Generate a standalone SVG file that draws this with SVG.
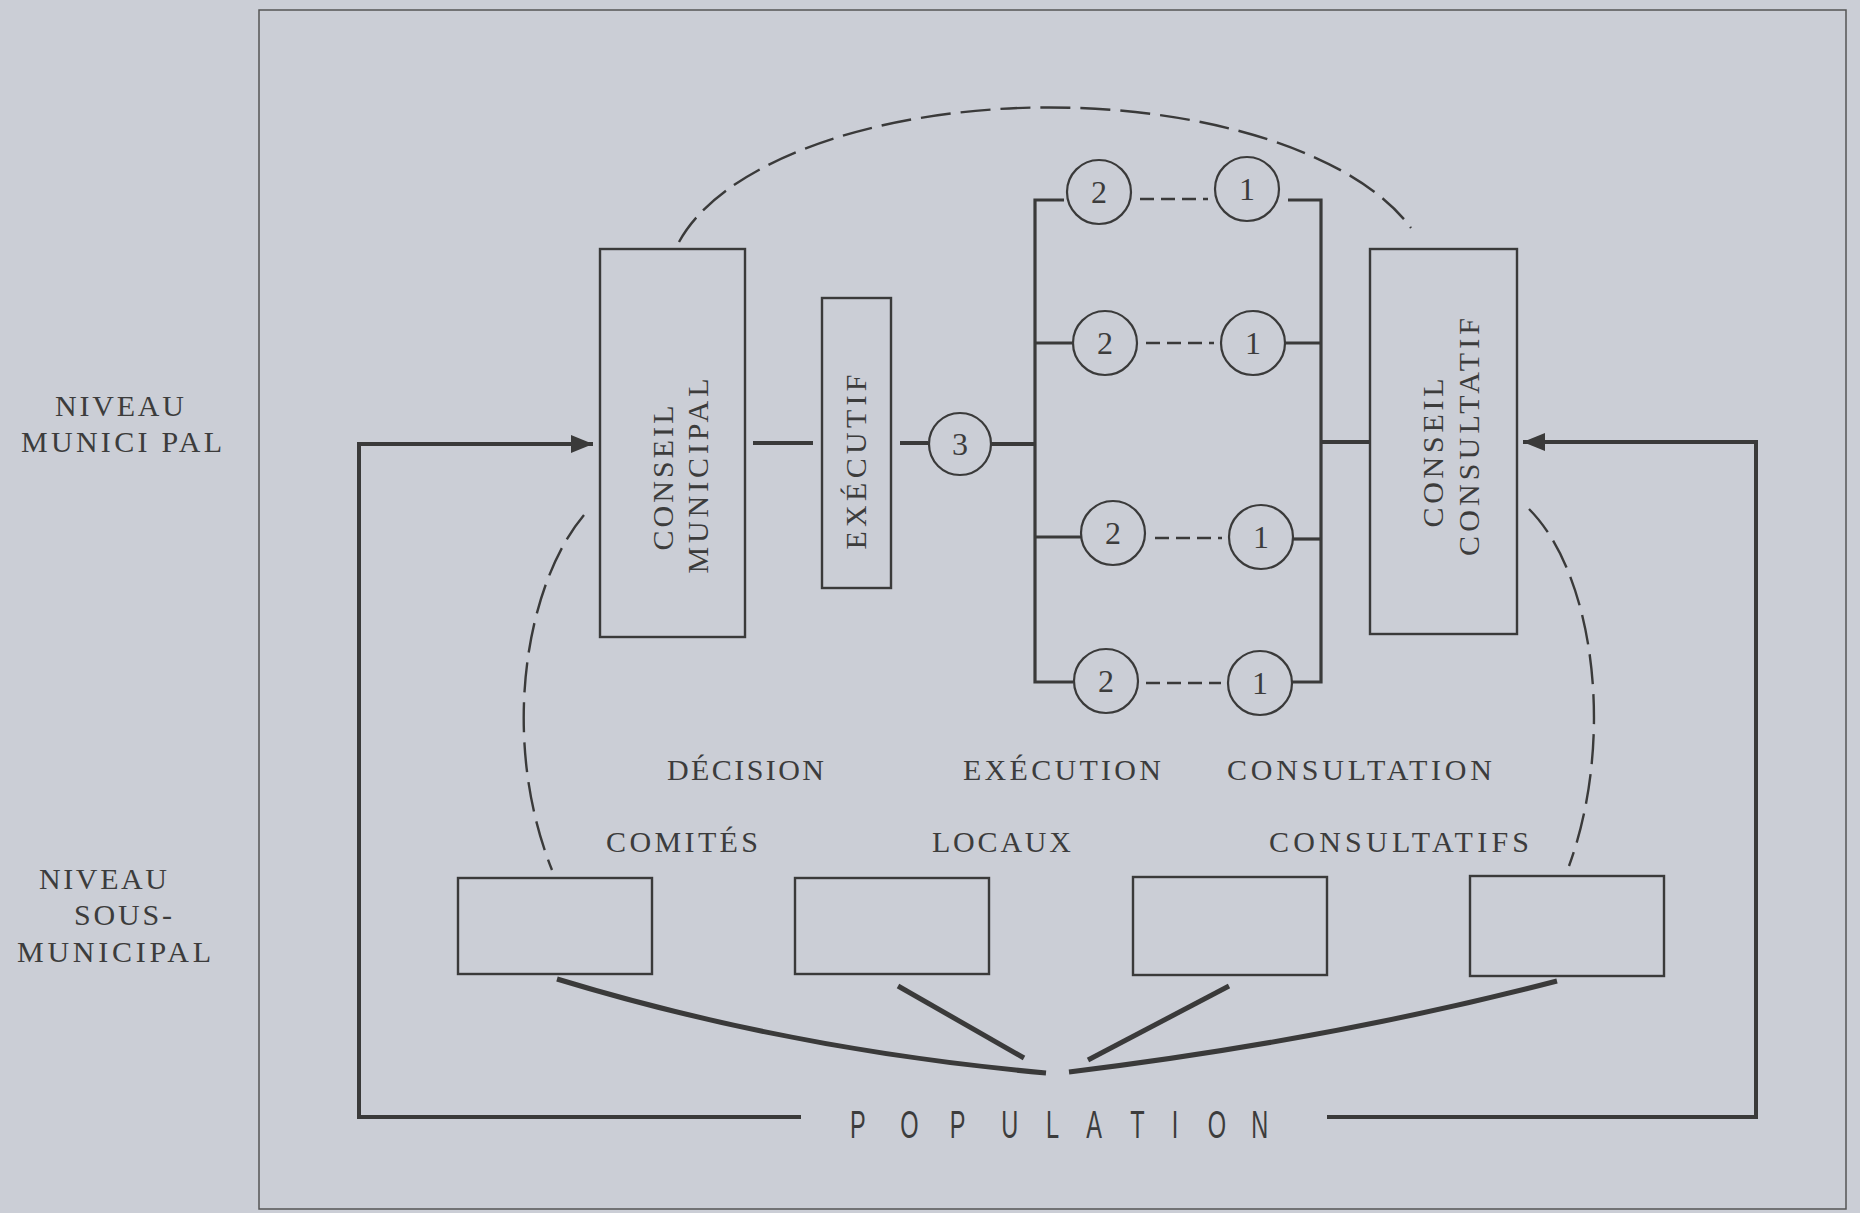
<svg xmlns="http://www.w3.org/2000/svg" width="1860" height="1213" viewBox="0 0 1860 1213">
<defs>
<marker id="arrow" markerUnits="userSpaceOnUse" markerWidth="24" markerHeight="20" refX="22" refY="9" orient="auto">
<path d="M0,0 L22,9 L0,18 z" fill="#3a3a3a"/>
</marker>
<style>
.bg{fill:#cbced6}
.frame{fill:none;stroke:#555;stroke-width:1.5}
.box{fill:none;stroke:#3a3a3a;stroke-width:2.4}
.circ{fill:none;stroke:#3a3a3a;stroke-width:2.2}
.heavy{fill:none;stroke:#3a3a3a;stroke-width:4}
.brk{fill:none;stroke:#3a3a3a;stroke-width:3.2}
.fan{fill:none;stroke:#3a3a3a;stroke-width:5}
.dash{fill:none;stroke:#3a3a3a;stroke-width:2.4;stroke-dasharray:30 10}
.sdash{fill:none;stroke:#3a3a3a;stroke-width:2.6;stroke-dasharray:14 7}
.lbl{font-family:"Liberation Serif","DejaVu Serif",serif;font-size:30px;fill:#3c3c3c}
.num{font-family:"Liberation Serif","DejaVu Serif",serif;font-size:32px;fill:#3c3c3c;text-anchor:middle}
.pop{font-family:"Liberation Sans","DejaVu Sans",sans-serif;font-size:38px;fill:#3c3c3c}
</style>
</defs>
<rect class="bg" x="0" y="0" width="1860" height="1213"/>
<rect class="frame" x="259" y="10" width="1587" height="1199"/>

<g id="label-niveau-municipal">
<text class="lbl" x="55" y="416" textLength="129" lengthAdjust="spacing">NIVEAU</text>
<text class="lbl" x="21" y="452" textLength="201" lengthAdjust="spacing">MUNICI PAL</text>
</g>
<g id="label-niveau-sous-municipal">
<text class="lbl" x="39" y="889" textLength="128" lengthAdjust="spacing">NIVEAU</text>
<text class="lbl" x="74" y="925" textLength="98" lengthAdjust="spacing">SOUS-</text>
<text class="lbl" x="17" y="962" textLength="194" lengthAdjust="spacing">MUNICIPAL</text>
</g>

<g id="connectors">
<path class="dash" d="M 679 242 A 382 178 0 0 1 1411 228"/>
<path class="dash" d="M 584 515 C 525 585, 500 740, 552 870"/>
<path class="dash" d="M 1529 509 C 1595 575, 1615 740, 1569 866"/>
<path class="heavy" d="M 801 1117 L 359 1117 L 359 444 L 593 444" marker-end="url(#arrow)"/>
<path class="heavy" d="M 1327 1117 L 1756 1117 L 1756 442 L 1523 442" marker-end="url(#arrow)"/>
<line class="heavy" x1="753" y1="443" x2="813" y2="443"/>
<line class="heavy" x1="900" y1="443" x2="928" y2="443"/>
<line class="heavy" x1="992" y1="444" x2="1035" y2="444"/>
<line class="heavy" x1="1321" y1="442" x2="1370" y2="442"/>
<path class="brk" d="M 1064 200 L 1035 200 L 1035 682 L 1073 682"/>
<path class="brk" d="M 1288 200 L 1321 200 L 1321 682 L 1292 682"/>
<line class="brk" x1="1035" y1="343" x2="1072" y2="343"/>
<line class="brk" x1="1285" y1="343" x2="1321" y2="343"/>
<line class="brk" x1="1035" y1="537" x2="1081" y2="537"/>
<line class="brk" x1="1293" y1="539" x2="1321" y2="539"/>
<line class="sdash" x1="1140" y1="199" x2="1208" y2="199"/>
<line class="sdash" x1="1146" y1="343" x2="1214" y2="343"/>
<line class="sdash" x1="1155" y1="538" x2="1222" y2="538"/>
<line class="sdash" x1="1146" y1="683" x2="1221" y2="683"/>
<path class="fan" d="M 557 979 Q 790 1050 1046 1073"/>
<path class="fan" d="M 1557 981 Q 1330 1040 1069 1072"/>
<line class="fan" x1="898" y1="986" x2="1024" y2="1058"/>
<line class="fan" x1="1229" y1="986" x2="1088" y2="1060"/>
</g>

<g id="conseil-municipal">
<rect class="box" x="600" y="249" width="145" height="388"/>
<text class="lbl" text-anchor="middle" textLength="145" lengthAdjust="spacing" transform="translate(673,478) rotate(-90)">CONSEIL</text>
<text class="lbl" text-anchor="middle" textLength="195" lengthAdjust="spacing" transform="translate(708,476) rotate(-90)">MUNICIPAL</text>
</g>
<g id="executif">
<rect class="box" x="822" y="298" width="69" height="290"/>
<text class="lbl" text-anchor="middle" textLength="175" lengthAdjust="spacing" transform="translate(866,462) rotate(-90)">EXÉCUTIF</text>
</g>
<g id="circle-3">
<circle class="circ" cx="960" cy="444" r="31"/>
<text class="num" x="960" y="455">3</text>
</g>
<g id="row-1">
<circle class="circ" cx="1099" cy="192" r="32"/><text class="num" x="1099" y="203">2</text>
<circle class="circ" cx="1247" cy="189" r="32"/><text class="num" x="1247" y="200">1</text>
</g>
<g id="row-2">
<circle class="circ" cx="1105" cy="343" r="32"/><text class="num" x="1105" y="354">2</text>
<circle class="circ" cx="1253" cy="343" r="32"/><text class="num" x="1253" y="354">1</text>
</g>
<g id="row-3">
<circle class="circ" cx="1113" cy="533" r="32"/><text class="num" x="1113" y="544">2</text>
<circle class="circ" cx="1261" cy="537" r="32"/><text class="num" x="1261" y="548">1</text>
</g>
<g id="row-4">
<circle class="circ" cx="1106" cy="681" r="32"/><text class="num" x="1106" y="692">2</text>
<circle class="circ" cx="1260" cy="683" r="32"/><text class="num" x="1260" y="694">1</text>
</g>
<g id="conseil-consultatif">
<rect class="box" x="1370" y="249" width="147" height="385"/>
<text class="lbl" text-anchor="middle" textLength="149" lengthAdjust="spacing" transform="translate(1443,453) rotate(-90)">CONSEIL</text>
<text class="lbl" text-anchor="middle" textLength="238" lengthAdjust="spacing" transform="translate(1479,437) rotate(-90)">CONSULTATIF</text>
</g>

<g id="labels-functions">
<text class="lbl" x="667" y="780" textLength="157" lengthAdjust="spacing">DÉCISION</text>
<text class="lbl" x="963" y="780" textLength="198" lengthAdjust="spacing">EXÉCUTION</text>
<text class="lbl" x="1227" y="780" textLength="265" lengthAdjust="spacing">CONSULTATION</text>
<text class="lbl" x="606" y="852" textLength="152" lengthAdjust="spacing">COMITÉS</text>
<text class="lbl" x="932" y="852" textLength="139" lengthAdjust="spacing">LOCAUX</text>
<text class="lbl" x="1269" y="852" textLength="260" lengthAdjust="spacing">CONSULTATIFS</text>
</g>

<g id="comite-1"><rect class="box" x="458" y="878" width="194" height="96"/></g>
<g id="comite-2"><rect class="box" x="795" y="878" width="194" height="96"/></g>
<g id="comite-3"><rect class="box" x="1133" y="877" width="194" height="98"/></g>
<g id="comite-4"><rect class="box" x="1470" y="876" width="194" height="100"/></g>

<g id="population">
<text class="pop" transform="translate(850,1138) scale(0.62,1)" x="0 81 161 244 316 381 452 519 577 647" y="0">POPULATION</text>
</g>
</svg>
